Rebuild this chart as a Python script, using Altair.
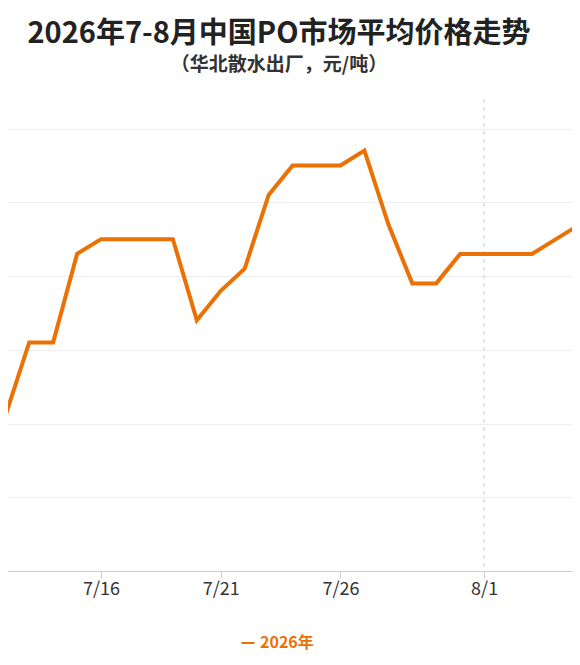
import altair as alt
import pandas as pd

# ---- data ----
dates = ["7/11", "7/12", "7/13", "7/14", "7/15", "7/16", "7/17", "7/18", "7/19",
         "7/20", "7/21", "7/22", "7/23", "7/24", "7/25", "7/26", "7/27", "7/28",
         "7/29", "7/30", "7/31", "8/1", "8/2", "8/3", "8/4", "8/5"]
prices = [7220, 7220, 7420, 7420, 7660, 7700, 7700, 7700, 7700,
          7480, 7560, 7620, 7820, 7900, 7900, 7900, 7940, 7740,
          7580, 7580, 7660, 7660, 7660, 7660, 7700, 7740]
series_name = "2026年"
tick_dates = ["7/16", "7/21", "7/26", "8/1"]
grid_values = [6800, 7000, 7200, 7400, 7600, 7800, 8000]
marker_date = "8/1"

ORANGE = "#EC7105"
FONT = "Noto Sans CJK SC"


def day_index(s):
    m, d = s.split("/")
    return (int(d) if m == "7" else 31 + int(d))


df = pd.DataFrame({
    "date": dates,
    "day": [day_index(d) for d in dates],
    "price": prices,
    "series": series_name,
})
rule_df = pd.DataFrame({"day": [day_index(marker_date)]})

x_scale = alt.Scale(domain=[11.78, 35.67], nice=False, zero=False)
y_scale = alt.Scale(domain=[6800, 8080], nice=False, zero=False)

line = alt.Chart(df).mark_line(strokeWidth=4, clip=True).encode(
    x=alt.X("day:Q", scale=x_scale,
            axis=alt.Axis(values=[day_index(t) for t in tick_dates],
                          labelExpr="datum.value <= 31 ? '7/' + datum.value : '8/' + (datum.value - 31)",
                          grid=False, domainColor="#cccccc", tickColor="#cccccc",
                          tickSize=7, labelFontSize=18, labelColor="#333333",
                          labelFont=FONT, labelPadding=2, title=None)),
    y=alt.Y("price:Q", scale=y_scale,
            axis=alt.Axis(values=grid_values, labels=False, ticks=False,
                          domain=False, grid=True, gridColor="#eeeeee",
                          gridWidth=1, title=None)),
    color=alt.Color("series:N", scale=alt.Scale(range=[ORANGE]),
                    legend=alt.Legend(orient="none", legendX=240, legendY=536,
                                      title=None, symbolType="stroke",
                                      symbolSize=170, symbolStrokeWidth=2,
                                      labelColor=ORANGE, labelFontWeight="bold",
                                      labelFontSize=16, labelFont=FONT,
                                      padding=0, symbolOffset=0)),
)

rule = alt.Chart(rule_df).mark_rule(strokeDash=[4, 4], color="#cccccc",
                                    strokeWidth=1).encode(x=alt.X("day:Q", scale=x_scale))

chart = alt.layer(rule, line).properties(
    width=572,
    height=472,
    padding={"left": -8, "top": 91, "right": 0, "bottom": 81},
    autosize=alt.AutoSizeParams(type="none"),
    title=alt.TitleParams(
        text="2026年7-8月中国PO市场平均价格走势",
        subtitle="（华北散水出厂，元/吨）",
        anchor="middle", frame="group", dx=-7, offset=24,
        font=FONT, fontSize=29, fontWeight="bold", color="#222222",
        subtitleFont=FONT, subtitleFontSize=19, subtitleFontWeight="bold",
        subtitleColor="#333333", subtitlePadding=7,
    ),
).configure_view(stroke=None)

chart.save("out.html", embed_options={"renderer": "svg", "actions": False})
